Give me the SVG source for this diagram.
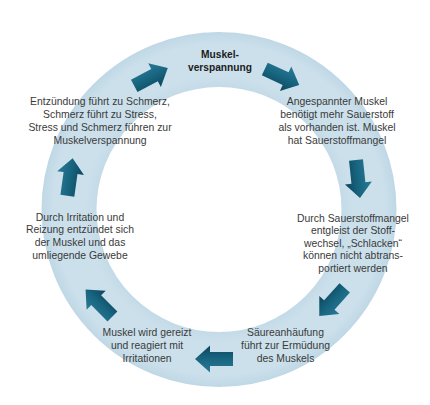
<svg xmlns="http://www.w3.org/2000/svg" xmlns:xlink="http://www.w3.org/1999/xlink" width="430" height="405" viewBox="0 0 430 405">
  <style>
    text { font-family: "Liberation Sans", Arial, sans-serif; font-size: 10.4px; fill: #3a3a3a; text-anchor: middle; }
    .title { font-weight: bold; font-size: 10.2px; fill: #1c1c1c; }
    .arrow { fill: url(#arrowGrad); }
  </style>
  <defs>
    <radialGradient id="ringGrad" gradientUnits="userSpaceOnUse" cx="219" cy="209.5" r="178">
      <stop offset="0.68" stop-color="#c3dae7"/>
      <stop offset="0.75" stop-color="#cbe0eb"/>
      <stop offset="0.93" stop-color="#cbe0eb"/>
      <stop offset="1" stop-color="#bfd7e5"/>
    </radialGradient>
    <linearGradient id="arrowGrad" x1="0" y1="0" x2="0" y2="1">
      <stop offset="0" stop-color="#2a7a96"/>
      <stop offset="0.5" stop-color="#186580"/>
      <stop offset="1" stop-color="#0c465c"/>
    </linearGradient>
    <path id="arr" d="M-19,-7 L4,-7 L4,-13.5 L19,0 L4,13.5 L4,7 L-19,7 Z"/>
  </defs>
  <rect width="430" height="405" fill="#ffffff"/>
  <g id="ring">
    <circle cx="219" cy="209.5" r="150" fill="none" stroke="url(#ringGrad)" stroke-width="55"/>
  </g>
  <g id="connectors">
    <use xlink:href="#arr" class="arrow" transform="translate(151,77) rotate(-28)"/>
    <use xlink:href="#arr" class="arrow" transform="translate(282,77) rotate(25)"/>
    <use xlink:href="#arr" class="arrow" transform="translate(358,179) rotate(84)"/>
    <use xlink:href="#arr" class="arrow" transform="translate(332,302) rotate(132)"/>
    <use xlink:href="#arr" class="arrow" transform="translate(214,359) rotate(180)"/>
    <use xlink:href="#arr" class="arrow" transform="translate(99,303) rotate(225)"/>
    <use xlink:href="#arr" class="arrow" transform="translate(70,177) rotate(-82)"/>
  </g>
  <g id="node-muskelverspannung">
    <text class="title" x="220" y="57.5">Muskel-</text>
    <text class="title" x="220" y="70.5">verspannung</text>
  </g>
  <g id="node-sauerstoffmangel">
    <text x="337" y="104.5">Angespannter Muskel</text>
    <text x="337" y="117.5">benötigt mehr Sauerstoff</text>
    <text x="337" y="130.8">als vorhanden ist. Muskel</text>
    <text x="337" y="144">hat Sauerstoffmangel</text>
  </g>
  <g id="node-stoffwechsel">
    <text x="353" y="221.7">Durch Sauerstoffmangel</text>
    <text x="353" y="234.3">entgleist der Stoff-</text>
    <text x="353" y="246.8">wechsel, „Schlacken“</text>
    <text x="353" y="259.3">können nicht abtrans-</text>
    <text x="353" y="271.8">portiert werden</text>
  </g>
  <g id="node-saeure">
    <text x="285.5" y="336">Säureanhäufung</text>
    <text x="285.5" y="349">führt zur Ermüdung</text>
    <text x="285.5" y="362">des Muskels</text>
  </g>
  <g id="node-gereizt">
    <text x="147" y="336">Muskel wird gereizt</text>
    <text x="147" y="349">und reagiert mit</text>
    <text x="147" y="362">Irritationen</text>
  </g>
  <g id="node-entzuendung">
    <text x="80" y="220.7">Durch Irritation und</text>
    <text x="80" y="233.4">Reizung entzündet sich</text>
    <text x="80" y="246">der Muskel und das</text>
    <text x="80" y="258.7">umliegende Gewebe</text>
  </g>
  <g id="node-schmerz">
    <text x="100" y="104.5">Entzündung führt zu Schmerz,</text>
    <text x="100" y="117.5">Schmerz führt zu Stress,</text>
    <text x="100" y="130.8">Stress und Schmerz führen zur</text>
    <text x="100" y="144">Muskelverspannung</text>
  </g>
</svg>
